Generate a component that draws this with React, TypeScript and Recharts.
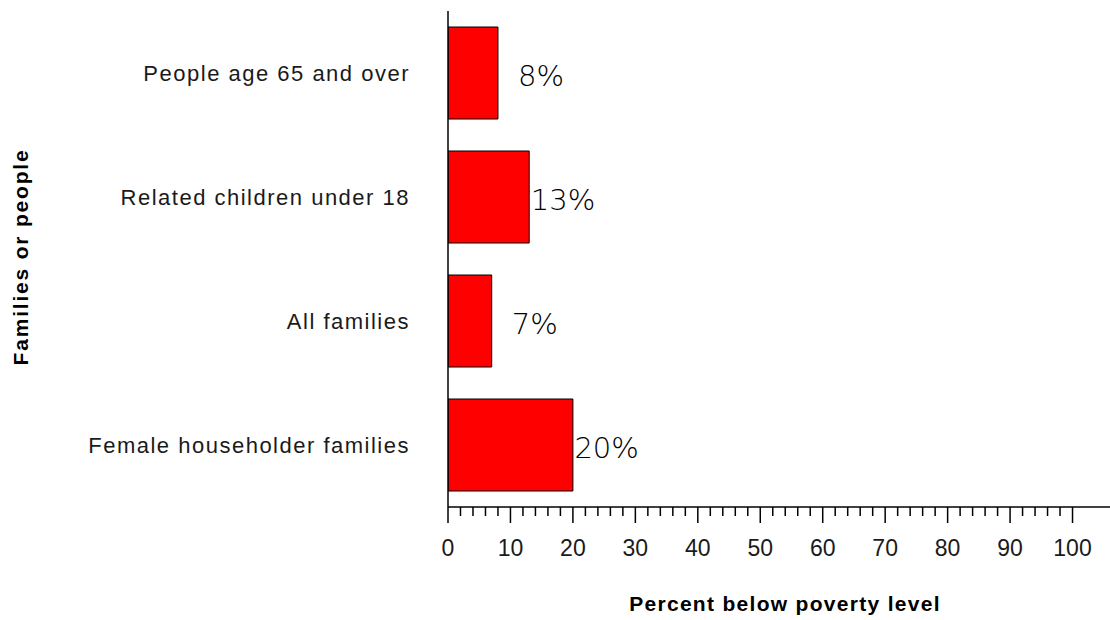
import { Bar, BarChart, LabelList, XAxis, YAxis } from "recharts"

const categories = [
  "People age 65 and over",
  "Related children under 18",
  "All families",
  "Female householder families",
]
const percents = [8, 13, 7, 20]
const xTicks = Array.from({ length: 51 }, (_, i) => i * 2)

const data = categories.map((name, i) => ({ name, value: percents[i] }))

const W = 1110
const H = 620
const textColor = "#1a1a1a"

function XTick(props: any) {
  const { x, y, payload } = props
  const major = payload.value % 10 === 0
  return (
    <g>
      <line x1={x} y1={y} x2={x} y2={y + (major ? 16 : 9)} stroke="#000" strokeWidth={1.5} />
      {major && (
        <text
          x={x}
          y={y + 49}
          textAnchor="middle"
          fontFamily="Liberation Sans, Arial, sans-serif"
          fontSize={23}
          fill={textColor}
        >
          {payload.value}
        </text>
      )}
    </g>
  )
}

function YTick(props: any) {
  const { x, y, payload } = props
  return (
    <text
      x={x - 38}
      y={y + 8}
      textAnchor="end"
      fontFamily="Liberation Sans, Arial, sans-serif"
      fontSize={22}
      letterSpacing={1.5}
      fill={textColor}
    >
      {payload.value}
    </text>
  )
}

function PercentLabel(props: any) {
  const { x, y, width, height, value } = props
  return (
    <text
      x={x + width + 66}
      y={y + height / 2 + 13}
      textAnchor="end"
      fontFamily="DejaVu Sans, sans-serif"
      fontWeight={300}
      fontSize={29}
      fill="#000"
    >
      {value}%
    </text>
  )
}

export default function App() {
  return (
    <div style={{ position: "absolute", left: 0, top: 0, width: W, height: H, background: "#fff" }}>
      <BarChart
        width={W}
        height={H}
        data={data}
        layout="vertical"
        margin={{ top: 11, right: 0, bottom: 0, left: 0 }}
      >
        <XAxis
          type="number"
          domain={[0, 106]}
          ticks={xTicks}
          interval={0}
          tickSize={0}
          tickMargin={0}
          tickLine={false}
          tick={<XTick />}
          height={113}
          axisLine={{ stroke: "#000", strokeWidth: 1.5 }}
          allowDataOverflow
        />
        <YAxis
          type="category"
          dataKey="name"
          width={448}
          tickSize={0}
          tickMargin={0}
          tickLine={false}
          tick={<YTick />}
          axisLine={{ stroke: "#000", strokeWidth: 1.5 }}
        />
        <Bar dataKey="value" fill="#ff0000" stroke="#000" strokeWidth={1} barSize={92} isAnimationActive={false}>
          <LabelList dataKey="value" content={<PercentLabel />} />
        </Bar>
      </BarChart>
      <svg
        width={W}
        height={H}
        style={{ position: "absolute", left: 0, top: 0, pointerEvents: "none" }}
      >
        <text
          x={785}
          y={611}
          textAnchor="middle"
          fontFamily="Liberation Sans, Arial, sans-serif"
          fontWeight="bold"
          fontSize={21}
          letterSpacing={1.3}
          fill="#000"
        >
          Percent below poverty level
        </text>
        <text
          transform="translate(28, 257) rotate(-90)"
          textAnchor="middle"
          fontFamily="Liberation Sans, Arial, sans-serif"
          fontWeight="bold"
          fontSize={21}
          letterSpacing={1.8}
          fill="#000"
        >
          Families or people
        </text>
      </svg>
    </div>
  )
}
